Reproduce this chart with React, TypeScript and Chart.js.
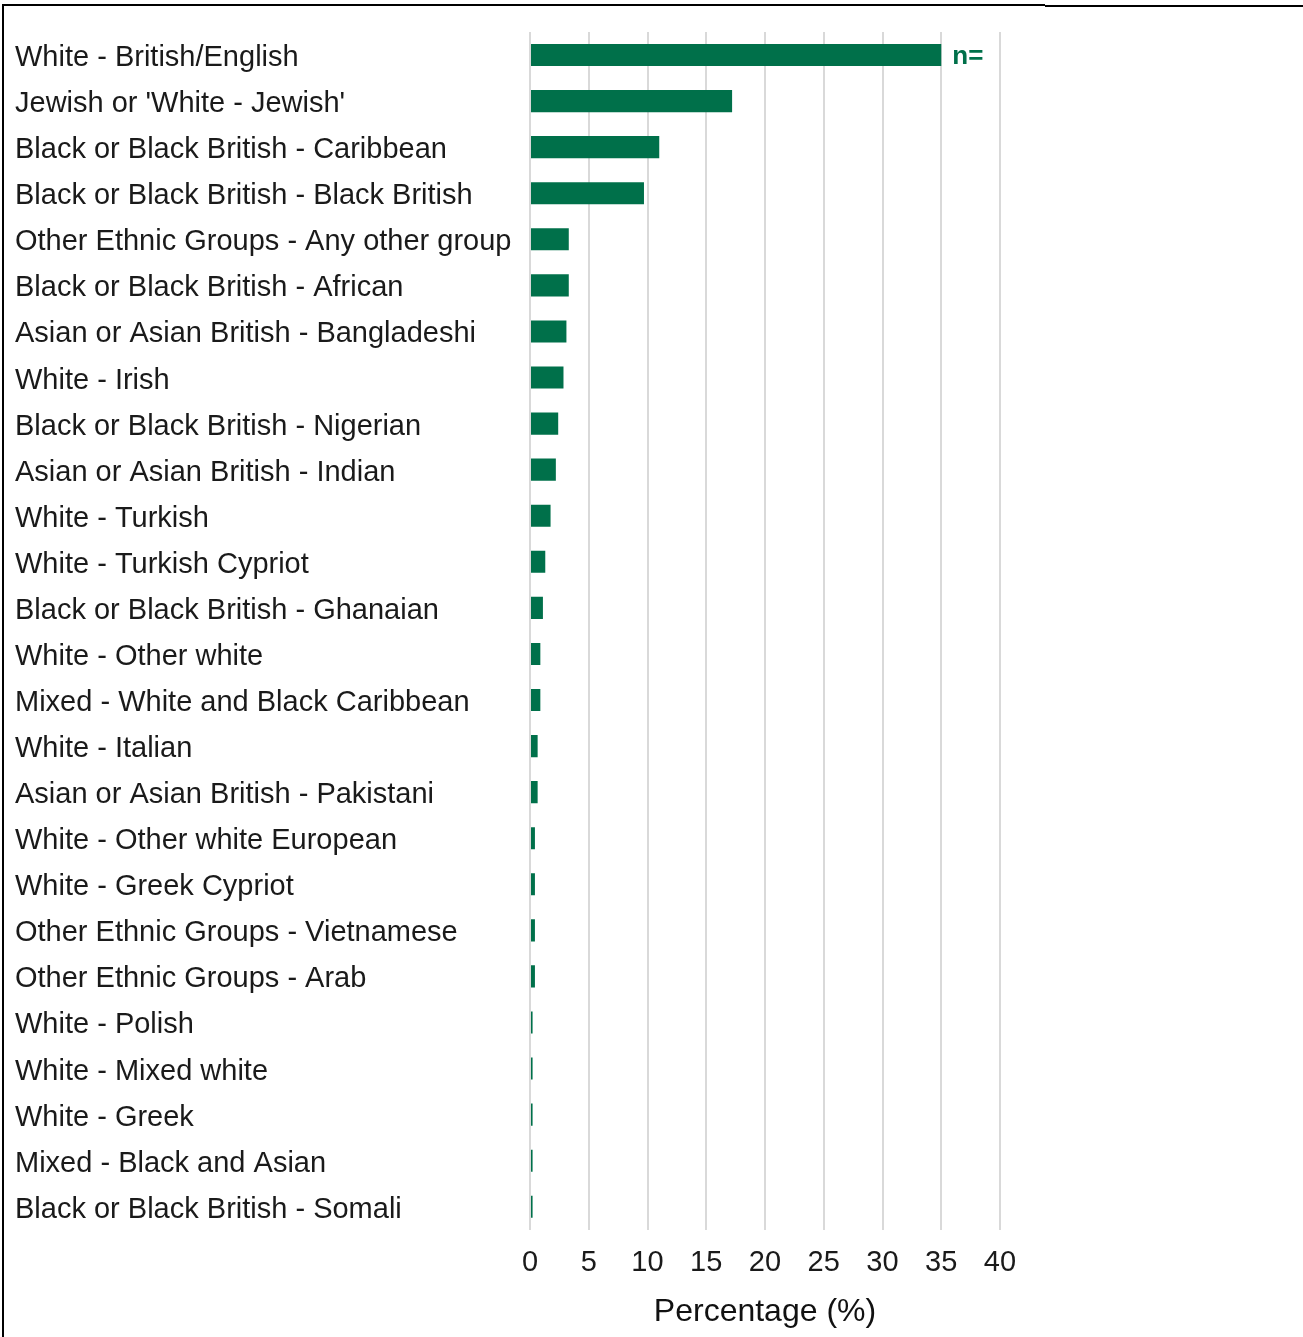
import React, { useEffect, useRef } from "react";
import { Chart, registerables } from "chart.js";

Chart.register(...registerables);

const categories: string[] = [
  "White - British/English",
  "Jewish or 'White - Jewish'",
  "Black or Black British - Caribbean",
  "Black or Black British - Black British",
  "Other Ethnic Groups - Any other group",
  "Black or Black British - African",
  "Asian or Asian British - Bangladeshi",
  "White - Irish",
  "Black or Black British - Nigerian",
  "Asian or Asian British - Indian",
  "White - Turkish",
  "White - Turkish Cypriot",
  "Black or Black British - Ghanaian",
  "White - Other white",
  "Mixed - White and Black Caribbean",
  "White - Italian",
  "Asian or Asian British - Pakistani",
  "White - Other white European",
  "White - Greek Cypriot",
  "Other Ethnic Groups - Vietnamese",
  "Other Ethnic Groups - Arab",
  "White - Polish",
  "White - Mixed white",
  "White - Greek",
  "Mixed - Black and Asian",
  "Black or Black British - Somali",
];

const percentages: number[] = [
  35.0, 17.2, 11.0, 9.7, 3.3, 3.3, 3.1, 2.85, 2.4, 2.2, 1.75, 1.3, 1.1, 0.88,
  0.88, 0.65, 0.65, 0.42, 0.42, 0.42, 0.42, 0.22, 0.22, 0.22, 0.22, 0.22,
];

const xTicks: number[] = [0, 5, 10, 15, 20, 25, 30, 35, 40];
const annotationText = "n=";
const axisTitle = "Percentage (%)";

const FONT = "'Liberation Sans', Arial, sans-serif";
const GREEN = "#00704a";

const annotationPlugin = {
  id: "nAnnotation",
  afterDatasetsDraw(chart: any) {
    const meta = chart.getDatasetMeta(0);
    const bar = meta.data[0];
    if (!bar) return;
    const ctx = chart.ctx;
    ctx.save();
    ctx.font = `bold 26px ${FONT}`;
    ctx.fillStyle = GREEN;
    ctx.textAlign = "left";
    ctx.textBaseline = "middle";
    ctx.fillText(annotationText, bar.x + 11, bar.y + 2);
    ctx.restore();
  },
};

export default function App() {
  const canvasRef = useRef<HTMLCanvasElement | null>(null);

  useEffect(() => {
    document.body.style.margin = "0";
    const canvas = canvasRef.current;
    if (!canvas) return;
    const chart = new Chart(canvas, {
      type: "bar",
      data: {
        labels: categories,
        datasets: [
          {
            data: percentages,
            backgroundColor: GREEN,
            borderWidth: 0,
            barPercentage: 0.48,
            categoryPercentage: 1,
          },
        ],
      },
      options: {
        indexAxis: "y",
        animation: false,
        responsive: false,
        maintainAspectRatio: false,
        devicePixelRatio: 1,
        layout: { padding: { left: 15, right: 303, top: 32, bottom: 6 } },
        plugins: {
          legend: { display: false },
          tooltip: { enabled: false },
        },
        scales: {
          x: {
            type: "linear",
            min: 0,
            max: 40,
            afterBuildTicks: (axis: any) => {
              axis.ticks = xTicks.map((v) => ({ value: v }));
            },
            grid: {
              color: "#d9d9d9",
              lineWidth: 2,
              drawTicks: false,
            },
            border: { display: false },
            ticks: {
              color: "#1a1a1a",
              font: { family: FONT, size: 29 },
              padding: 16,
            },
            title: {
              display: true,
              text: axisTitle,
              color: "#111111",
              font: { family: FONT, size: 32 },
              padding: { top: -4, bottom: 0 },
            },
          },
          y: {
            afterFit: (axis: any) => {
              axis.width = 515;
            },
            grid: { display: false, drawTicks: false },
            border: { display: false },
            ticks: {
              crossAlign: "far",
              color: "#1a1a1a",
              font: { family: FONT, size: 29 },
              autoSkip: false,
              labelOffset: 3,
            },
          },
        },
      },
      plugins: [annotationPlugin],
    });
    return () => chart.destroy();
  }, []);

  return (
    <div style={{ position: "relative", width: 1303, height: 1337, background: "#fff", overflow: "hidden" }}>
      <canvas ref={canvasRef} width={1303} height={1337} style={{ position: "absolute", left: 0, top: 0 }} />
      <div style={{ position: "absolute", left: 2, top: 4, width: 2, height: 1333, background: "#000" }} />
      <div style={{ position: "absolute", left: 2, top: 4, width: 1043, height: 2, background: "#000" }} />
      <div style={{ position: "absolute", left: 1045, top: 5, width: 258, height: 2, background: "#000" }} />
    </div>
  );
}
